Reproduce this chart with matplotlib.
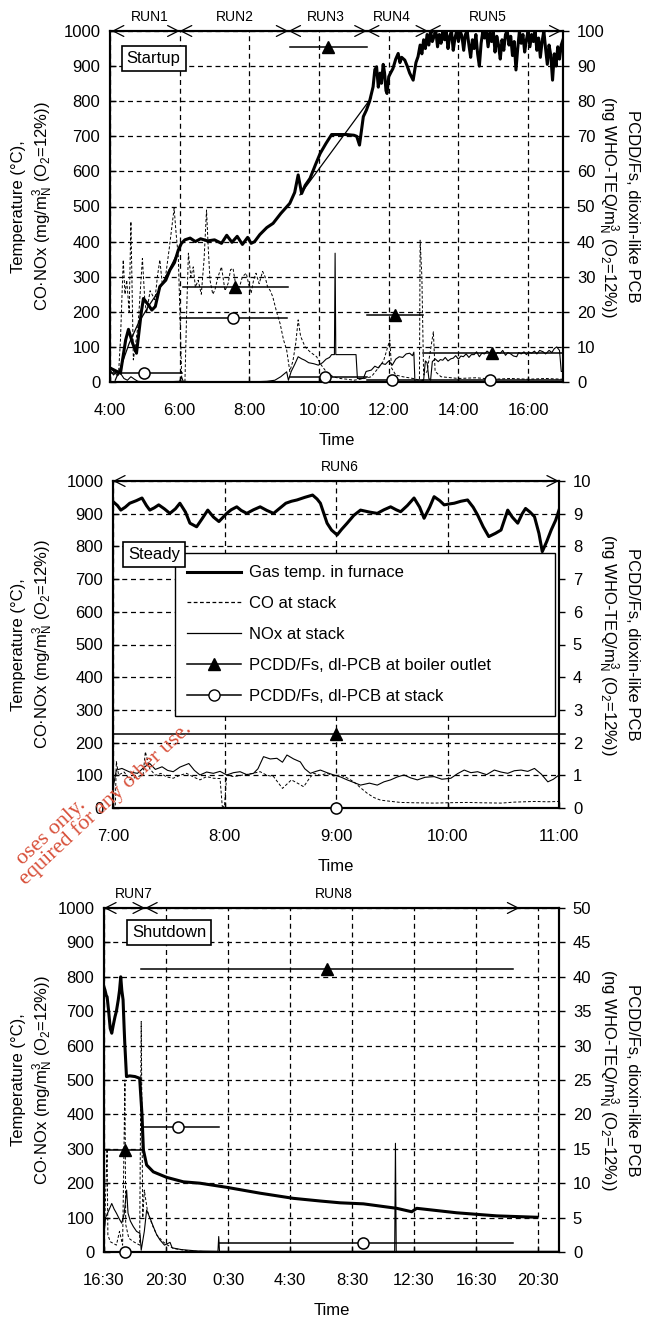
import numpy as np
import matplotlib
matplotlib.use('Agg')
import matplotlib.pyplot as plt
from matplotlib.lines import Line2D

plt.rcParams['font.family'] = ['Liberation Sans', 'DejaVu Sans']
plt.rcParams['mathtext.fontset'] = 'custom'
plt.rcParams['mathtext.rm'] = 'Liberation Sans'
plt.rcParams['mathtext.it'] = 'Liberation Sans:italic'
plt.rcParams['mathtext.bf'] = 'Liberation Sans:bold'

# ---------------- data: Startup (hours of day) ----------------
s_temp_t = [4.0, 4.2, 4.3, 4.45, 4.53, 4.65, 4.76, 4.9, 4.96, 5.1, 5.2, 5.3, 5.43, 5.6, 5.72, 5.85, 5.96,
            6.05, 6.15, 6.3, 6.45, 6.6, 6.8, 7.0, 7.2, 7.35, 7.5, 7.65, 7.8, 7.95, 8.05, 8.15, 8.3, 8.5,
            8.68, 8.9, 9.16, 9.3, 9.4, 9.5, 9.6, 9.74, 9.9, 10.03, 10.2, 10.36, 10.6, 10.79, 11.0, 11.08,
            11.16, 11.27, 11.36, 11.45, 11.55, 11.6, 11.65, 11.7, 11.75, 11.79, 11.84, 11.88, 11.92, 11.95,
            12.0, 12.05, 12.12, 12.2, 12.27, 12.32, 12.37, 12.46, 12.53, 12.6, 12.65, 12.7, 12.78, 12.84,
            12.9, 12.95, 13.0, 13.05, 13.1, 13.15, 13.2, 13.25,
            13.30, 13.35, 13.40, 13.45, 13.50, 13.55, 13.60, 13.65, 13.70, 13.75, 13.80, 13.85, 13.90,
            13.95, 14.00, 14.05, 14.10, 14.15, 14.20, 14.25, 14.30, 14.35, 14.40, 14.45, 14.50, 14.55,
            14.60, 14.65, 14.70, 14.75, 14.80, 14.85, 14.90, 14.95, 15.00, 15.05, 15.10, 15.15, 15.20,
            15.25, 15.30, 15.35, 15.40, 15.45, 15.50, 15.55, 15.60, 15.65, 15.70, 15.75, 15.80, 15.85,
            15.90, 15.95, 16.00, 16.05, 16.10, 16.15, 16.20, 16.25, 16.30, 16.35, 16.40, 16.45, 16.50,
            16.55, 16.60, 16.65, 16.70, 16.75, 16.80, 16.85, 16.90, 16.95, 17.00]
s_temp_v = [40, 30, 25, 120, 150, 110, 82, 200, 238, 220, 205, 215, 272, 290, 319, 340, 376,
            395, 405, 410, 400, 408, 402, 405, 395, 418, 398, 415, 392, 412, 395, 400, 420, 440,
            452, 480, 509, 540, 590, 537, 560, 580, 620, 651, 680, 705, 705, 705, 703, 700,
            675, 756, 775, 800, 841, 890, 898, 840, 880, 851, 905, 880, 830, 822,
            870, 880, 893, 920, 936, 910, 925, 917, 900, 880, 870, 860, 910, 927,
            960, 935, 975, 950, 990, 960, 1000, 970,
            985, 1000, 955, 990, 965, 1000, 975, 1000, 950, 985, 1000, 945, 980,
            1000, 970, 1000, 985, 945, 990, 1000, 960, 925, 975, 950, 990, 935,
            900, 965, 1000, 980, 1000, 955, 995, 970, 1000, 940, 985, 960, 920,
            975, 945, 990, 1000, 960, 985, 930, 970, 889, 950, 1000, 965, 990,
            940, 975, 1000, 955, 990, 970, 1000, 945, 980, 925, 970, 1000, 950,
            905, 960, 930, 860, 935, 900, 955, 920, 960, 975]
s_temp2_t = [4.15, 4.3, 4.55, 4.81, 5.1, 5.4, 5.7, 6.0, np.nan, 9.45, 11.5]
s_temp2_v = [5, 40, 110, 167, 215, 260, 320, 380, np.nan, 533, 810]
s_co_t = [4.0, 4.1, 4.24, 4.3, 4.38, 4.43, 4.48, 4.55, 4.6, 4.67, 4.75, 4.81, 4.87, 4.93, 5.0, 5.05, 5.15,
          5.29, 5.36, 5.43, 5.5, 5.58, 5.7, 5.84, 5.9, 5.96, 6.02, 6.06, 6.15, 6.2, 6.25, 6.32, 6.39, 6.45,
          6.53, 6.62, 6.7, 6.77, 6.82, 6.87, 6.95, 7.01, 7.1, 7.2, 7.3, 7.39, 7.46, 7.53, 7.62, 7.72, 7.8,
          7.91, 8.0, 8.05, 8.12, 8.19, 8.28, 8.38, 8.45, 8.52, 8.6, 8.67, 8.78, 8.88, 8.98, 9.07, 9.16,
          9.25, 9.33, 9.4, 9.47, 9.6, 9.75, 9.93, 10.05, 10.2, 10.4, 10.6, 10.8, 11.0, 11.3, 11.5, 11.7,
          11.85, 12.03, 12.08, 12.2, 12.4, 12.7, 12.88, 12.9, 12.95, 13.0, 13.1, 13.28, 13.33, 13.5,
          14.0, 14.5, 15.0, 15.5, 16.0, 16.5, 17.0]
s_co_v = [45, 30, 15, 120, 348, 250, 290, 200, 457, 63, 120, 167, 260, 352, 230, 196, 260,
          234, 300, 348, 280, 290, 380, 495, 420, 357, 150, 0, 0, 200, 367, 300, 328, 270,
          290, 250, 350, 490, 380, 290, 250, 262, 300, 328, 260, 281, 320, 324, 270, 272, 300,
          310, 270, 253, 290, 310, 280, 315, 300, 272, 260, 243, 200, 167, 120, 91, 30,
          60, 110, 177, 130, 100, 85, 72, 50, 30, 15, 10, 8, 5, 10, 15, 40,
          60, 120, 40, 20, 15, 10, 5, 404, 300, 20, 30, 143, 30, 15,
          10, 12, 8, 10, 8, 10, 8]
s_nox_t = [4.0, 4.1, 4.2, 4.3, 4.4, 4.5, 4.6, 4.7, 4.8, 5.0, 5.5, 6.0, 6.05, 6.1, 6.5, 7.0, 8.0, 8.5,
           8.73, 8.9, 9.07, 9.12, 9.2, 9.3, 9.4, 9.5, 9.59, 9.7, 9.85, 9.98, 10.1, 10.2, 10.3, 10.36,
           10.44, 10.46, 10.48, 11.06, 11.1, 11.27, 11.35, 11.5, 11.6, 11.7, 11.8, 11.9, 12.0, 12.1,
           12.2, 12.3, 12.4, 12.5, 12.6, 12.68, 12.72, 12.75, 12.9, 13.0, 13.05, 13.1, 13.15, 13.2,
           13.25, 13.33, 13.42, 13.48, 13.55, 13.62, 13.7, 13.78, 13.85, 13.92, 14.0, 14.07, 14.14,
           14.22, 14.3, 14.37, 14.45, 14.52, 14.6, 14.67, 14.75, 14.82, 14.9, 14.97, 15.05, 15.12,
           15.2, 15.27, 15.35, 15.42, 15.5, 15.58, 15.67, 15.73, 15.8, 15.88, 15.95, 16.02, 16.1,
           16.18, 16.25, 16.33, 16.43, 16.5, 16.6, 16.68, 16.75, 16.82, 16.9, 16.95, 17.0]
s_nox_v = [35, 20, 30, 25, 10, 5, 15, 8, 2, 0, 0, 2, 15, 2, 0, 0, 0, 2,
           5, 15, 29, 5, 30, 50, 72, 66, 62, 55, 52, 48, 55, 65, 70, 78,
           78, 367, 78, 78, 10, 10, 30, 34, 45, 40, 53, 50, 60, 48,
           65, 72, 70, 80, 82, 75, 85, 2, 2, 5, 60, 55, 10, 5,
           58, 66, 58, 64, 62, 70, 60, 66, 68, 75, 65, 74, 72,
           80, 70, 78, 78, 86, 72, 82, 80, 88, 82, 76, 75, 84,
           82, 90, 76, 84, 80, 74, 72, 84, 80, 86, 78, 85, 82,
           88, 80, 90, 86, 80, 90, 84, 95, 100, 90, 30, 30]
# PCDD/Fs (right axis): centre time, value, sampling start, sampling end
s_boil_t = [7.59, 10.26, 12.18, 14.95]
s_boil_v = [27.2, 95.4, 19.1, 8.2]
s_boil_a = [6.09, 9.17, 11.37, 12.99]
s_boil_b = [9.12, 11.37, 12.99, 17.0]
s_stack_t = [4.99, 7.52, 10.17, 12.08, 14.9]
s_stack_v = [2.7, 18.1, 1.5, 0.5, 0.5]
s_stack_a = [4.0, 6.0, 9.17, 11.37, 12.99]
s_stack_b = [6.06, 9.07, 11.37, 12.99, 17.0]
s_runs = ['RUN1', 'RUN2', 'RUN3', 'RUN4', 'RUN5']
s_run_edges = [4.05, 6.0, 9.12, 11.37, 13.13, 16.96]
s_run_label_t = [5.15, 7.59, 10.2, 12.1, 14.85]

# ---------------- data: Steady ----------------
m_temp_t = [7.0, 7.04, 7.07, 7.11, 7.15, 7.21, 7.26, 7.3, 7.33, 7.37, 7.41, 7.46, 7.51, 7.56, 7.6, 7.65,
            7.69, 7.75, 7.8, 7.85, 7.9, 7.95, 8.02, 8.06, 8.11, 8.15, 8.2, 8.26, 8.32, 8.38, 8.44, 8.5,
            8.55, 8.6, 8.65, 8.72, 8.79, 8.83, 8.86, 8.92, 8.96, 9.01, 9.05, 9.1, 9.16, 9.22, 9.3, 9.37,
            9.43, 9.49, 9.54, 9.58, 9.64, 9.7, 9.75, 9.79, 9.84, 9.88, 9.93, 9.97, 10.02, 10.06, 10.12,
            10.18, 10.23, 10.27, 10.32, 10.37, 10.43, 10.48, 10.54, 10.58, 10.63, 10.67, 10.7, 10.74,
            10.78, 10.82, 10.85, 10.89, 10.93, 10.97, 11.0]
m_temp_v = [937, 925, 911, 920, 932, 940, 948, 925, 911, 918, 927, 915, 901, 915, 932, 905,
            871, 860, 885, 911, 890, 876, 901, 912, 921, 910, 901, 912, 921, 910, 901, 918,
            932, 938, 942, 950, 957, 945, 932, 871, 850, 835, 852, 871, 895, 911, 905, 901,
            912, 921, 912, 906, 925, 948, 920, 886, 920, 952, 940, 927, 930, 932, 938,
            942, 920, 896, 860, 830, 840, 850, 911, 890, 871, 900, 916, 905,
            891, 840, 784, 815, 850, 880, 911]
m_nox_t = [7.0, 7.03, 7.08, 7.15, 7.22, 7.28, 7.33, 7.38, 7.44, 7.49, 7.54, 7.6, 7.68, 7.73, 7.78, 7.84,
           7.9, 7.96, 8.02, 8.08, 8.14, 8.2, 8.26, 8.3, 8.35, 8.41, 8.47, 8.52, 8.56, 8.62, 8.68, 8.72,
           8.77, 8.82, 8.86, 8.92, 8.98, 9.04, 9.1, 9.16, 9.22, 9.3, 9.37, 9.43, 9.49, 9.55, 9.61, 9.67,
           9.73, 9.8, 9.88, 9.95, 10.03, 10.09, 10.15, 10.21, 10.27, 10.35, 10.42, 10.48, 10.54, 10.6,
           10.66, 10.72, 10.78, 10.84, 10.9, 10.95, 11.0]
m_nox_v = [60, 116, 121, 110, 106, 125, 136, 118, 126, 115, 111, 125, 136, 115, 101, 110,
           106, 112, 101, 108, 111, 102, 106, 120, 157, 150, 152, 140, 162, 150, 141, 120,
           106, 112, 116, 108, 101, 95, 86, 78, 70, 76, 70, 80, 86, 95, 101, 92,
           86, 94, 96, 88, 91, 105, 116, 108, 111, 102, 116, 110, 106, 114,
           116, 112, 121, 104, 80, 88, 101]
m_co_t = [7.0, 7.02, 7.03, 7.05, 7.1, 7.15, 7.21, 7.27, 7.29, 7.33, 7.38, 7.43, 7.48, 7.54, 7.6, 7.66,
          7.72, 7.78, 7.84, 7.9, 7.96, 7.98, 8.0, 8.02, 8.08, 8.17, 8.24, 8.32, 8.38, 8.44, 8.52, 8.6,
          8.66, 8.71, 8.76, 8.8, 8.86, 8.92, 8.98, 9.04, 9.1, 9.16, 9.22, 9.28, 9.34, 9.4, 9.5, 9.58,
          9.7, 9.88, 10.0, 10.18, 10.3, 10.48, 10.6, 10.78, 10.9, 11.0]
m_co_v = [0, 0, 142, 101, 110, 86, 95, 101, 172, 120, 100, 106, 95, 91, 100, 106,
          95, 86, 96, 91, 90, 5, 5, 101, 96, 101, 105, 111, 100, 96, 60, 86,
          75, 65, 90, 106, 100, 106, 98, 101, 92, 80, 62, 45, 32, 24, 20, 17,
          16, 15, 16, 17, 16, 15, 18, 20, 19, 20]
m_boil_t = [9.0]
m_boil_v = [2.26]
m_boil_a = [7.0]
m_boil_b = [11.05]
m_stack_t = [9.0]
m_stack_v = [0.0]
m_runs = ['RUN6']
m_run_edges = [7.0, 11.0]
m_run_label_t = [9.03]

# ---------------- data: Shutdown (hours from 0:00 of first day) ----------------
d_temp_t = [16.5, 16.56, 16.65, 16.7, 16.8, 16.9, 17.0, 17.1, 17.21, 17.3, 17.42, 17.5, 17.58, 17.65,
            17.73, 17.8, 17.84, 17.95, 18.16, 18.5, 18.8, 18.95, 19.04, 19.25, 19.68, 20.54, 21.62,
            22.69, 24.42, 26.56, 28.71, 30.5, 31.73, 33.23, 35.38, 36.35, 36.67, 39.25, 41.84, 44.42]
d_temp_v = [770, 762, 745, 742, 700, 650, 636, 660, 684, 700, 733, 760, 800, 760,
            733, 650, 607, 510, 512, 510, 505, 400, 297, 253, 233, 217, 204,
            200, 188, 171, 156, 148, 143, 140, 127, 117, 127, 114, 105, 101]
d_co_t = [16.5, 16.7, 16.75, 16.9, 17.3, 17.5, 17.7, 17.85, 17.9, 18.1, 18.4, 18.8, 18.9, 19.0, 19.1,
          19.3, 19.6, 19.9, 20.3, 20.6, 21.0, 22.0, 24.0, 45.9]
d_co_v = [20, 300, 50, 30, 20, 60, 20, 500, 80, 40, 30, 20, 670, 100, 180,
          120, 80, 50, 30, 20, 10, 3, 0, 0]
d_nox_t = [16.5, 16.6, 16.8, 17.0, 17.15, 17.3, 17.5, 17.64, 17.8, 17.96, 18.05, 18.2, 18.39, 18.6,
           18.82, 18.9, 19.1, 19.25, 19.5, 19.68, 19.9, 20.11, 20.4, 20.76, 20.9, 21.5, 22.5, 23.85,
           23.9, 23.95, 35.25, 35.3, 35.35, 45.9]
d_nox_v = [50, 100, 120, 141, 125, 113, 95, 84, 110, 180, 113, 90, 74, 60,
           54, 5, 60, 122, 95, 74, 50, 35, 20, 28, 12, 7, 3, 2,
           45, 2, 2, 316, 2, 2]
d_boil_t = [17.85, 30.9]
d_boil_v = [14.8, 41.1]
d_boil_a = [16.56, 18.9]
d_boil_b = [18.93, 42.9]
d_stack_t = [17.85, 21.3, 33.23]
d_stack_v = [0.0, 18.1, 1.25]
d_stack_a = [17.85, 19.04, 23.9]
d_stack_b = [17.85, 23.9, 42.9]
d_runs = ['RUN7', 'RUN8']
d_run_edges = [16.5, 19.15, 43.3]
d_run_label_t = [18.4, 31.3]

# ---------------- figure ----------------
fig = plt.figure(figsize=(6.46, 13.17), dpi=100)
W, H = 646.0, 1317.0


def axes_px(l, r, t, b):
    return fig.add_axes([l / W, 1 - b / H, (r - l) / W, (b - t) / H])


FS = 12
left_label = 'Temperature (°C),\nCO·NOx (mg/m$_\\mathrm{N}^\\mathrm{3}$ (O$_\\mathrm{2}$=12%))'
right_label = 'PCDD/Fs, dioxin-like PCB\n(ng WHO-TEQ/m$_\\mathrm{N}^\\mathrm{3}$ (O$_\\mathrm{2}$=12%))'
DASH = (0, (4, 3))


def panel(px, xlim, xticks, xticklabels, rmax, rstep):
    l, r, t, b = px
    ax = axes_px(l, r, t, b)
    ax.set_xlim(*xlim)
    ax.set_ylim(0, 1000)
    ax.set_yticks(np.arange(0, 1001, 100))
    ax.set_xticks(xticks)
    ax.set_xticklabels(xticklabels)
    ax.grid(True, ls=DASH, color='k', lw=0.9)
    ax.tick_params(direction='in', length=4, labelsize=FS, width=1)
    ax.tick_params(axis='x', pad=15)
    ax.tick_params(axis='y', pad=7)
    for sp in ax.spines.values():
        sp.set_linewidth(1.5)
    ax.set_xlabel('Time', fontsize=FS, labelpad=11)
    ax.set_ylabel(left_label, fontsize=FS, linespacing=1.25)
    ax.yaxis.set_label_coords((55 - l) / (r - l), 0.5)
    ax2 = ax.twinx()
    ax2.set_ylim(0, rmax)
    ax2.set_yticks(np.arange(0, rmax + 0.001, rstep))
    ax2.tick_params(direction='out', length=4, labelsize=FS, pad=6, width=1)
    for sp in ax2.spines.values():
        sp.set_linewidth(1.5)
    ax2.set_ylabel(right_label, fontsize=FS, rotation=270, linespacing=1.25)
    ax2.yaxis.label.set_va('bottom')
    ax2.yaxis.set_label_coords((596 - l) / (r - l), 0.5)
    return ax, ax2


def draw(ax, temp_t, temp_v, co_t, co_v, nox_t, nox_v):
    ax.plot(co_t, co_v, color='k', lw=0.7, ls=(0, (3, 2)))
    ax.plot(nox_t, nox_v, color='k', lw=0.8)
    ax.plot(temp_t, temp_v, color='k', lw=2.2, solid_joinstyle='round')


def pcdd(ax2, bt, bv, ba, bb, st, sv, sa, sb):
    for t, v, a, b in zip(bt, bv, ba, bb):
        ax2.plot([a, b], [v, v], color='k', lw=1.1, clip_on=False)
        ax2.plot([t], [v], marker='^', ms=8, color='k', clip_on=False, zorder=4)
    for t, v, a, b in zip(st, sv, sa, sb):
        ax2.plot([a, b], [v, v], color='k', lw=1.1)
        ax2.plot([t], [v], marker='o', ms=8, mfc='white', mec='k', mew=1.1, clip_on=False, zorder=4)


def runs(ax, names, edges, label_t):
    for i, name in enumerate(names):
        a, b = edges[i], edges[i + 1]
        ax.annotate('', xy=(b, 1000), xytext=(a, 1000), xycoords='data',
                    arrowprops=dict(arrowstyle='<->,head_length=0.55,head_width=0.28',
                                    lw=0.9, color='k', shrinkA=0, shrinkB=0, mutation_scale=14),
                    annotation_clip=False)
        ax.annotate(name, xy=(label_t[i], 1000), xytext=(0, 5), textcoords='offset points',
                    ha='center', va='bottom', fontsize=10, annotation_clip=False)


def tag(ax, text, x, y):
    ax.text(x, y, text, transform=ax.transAxes, fontsize=FS, ha='left', va='center', zorder=20,
            bbox=dict(boxstyle='square,pad=0.3', fc='white', ec='k', lw=1.2))


# ---- Startup ----
ax, ax2 = panel((110, 563, 31, 382), (4, 17), np.arange(4, 17, 2),
                ['4:00', '6:00', '8:00', '10:00', '12:00', '14:00', '16:00'], 100, 10)
draw(ax, s_temp_t, s_temp_v, s_co_t, s_co_v, s_nox_t, s_nox_v)
ax.plot(s_temp2_t, s_temp2_v, color='k', lw=0.9)
pcdd(ax2, s_boil_t, s_boil_v, s_boil_a, s_boil_b, s_stack_t, s_stack_v, s_stack_a, s_stack_b)
runs(ax, s_runs, s_run_edges, s_run_label_t)
tag(ax2, 'Startup', 0.037, 0.922)

# ---- Steady ----
ax, ax2 = panel((113, 559, 481, 808), (7, 11), np.arange(7, 11.01, 1),
                ['7:00', '8:00', '9:00', '10:00', '11:00'], 10, 1)
draw(ax, m_temp_t, m_temp_v, m_co_t, m_co_v, m_nox_t, m_nox_v)
pcdd(ax2, m_boil_t, m_boil_v, m_boil_a, m_boil_b, [], [], [], [])
for t, v in zip(m_stack_t, m_stack_v):
    ax2.plot([t], [v], marker='o', ms=8, mfc='white', mec='k', mew=1.1, clip_on=False, zorder=4)
runs(ax, m_runs, m_run_edges, m_run_label_t)
handles = [Line2D([], [], color='k', lw=2.2),
           Line2D([], [], color='k', lw=0.9, ls=(0, (3, 2))),
           Line2D([], [], color='k', lw=0.9),
           Line2D([], [], color='k', lw=1.1, marker='^', ms=8),
           Line2D([], [], color='k', lw=1.1, marker='o', ms=8, mfc='white', mec='k')]
labels = ['Gas temp. in furnace', 'CO at stack', 'NOx at stack',
          'PCDD/Fs, dl-PCB at boiler outlet', 'PCDD/Fs, dl-PCB at stack']
leg = ax2.legend(handles, labels, loc='upper left', bbox_to_anchor=(0.139, 0.29, 0.852, 0.49),
                 mode='expand', fontsize=FS, frameon=True, fancybox=False, edgecolor='k',
                 framealpha=1, handlelength=3.2, labelspacing=0.95, borderpad=0.75, handletextpad=0.5,
                 borderaxespad=0)
leg.get_frame().set_linewidth(1.0)
leg.set_zorder(8)
tag(ax2, 'Steady', 0.034, 0.775)

# ---- Shutdown ----
ax, ax2 = panel((104, 559, 908, 1252), (16.5, 45.85), np.arange(16.5, 45, 4),
                ['16:30', '20:30', '0:30', '4:30', '8:30', '12:30', '16:30', '20:30'], 50, 5)
draw(ax, d_temp_t, d_temp_v, d_co_t, d_co_v, d_nox_t, d_nox_v)
pcdd(ax2, d_boil_t, d_boil_v, d_boil_a, d_boil_b, d_stack_t, d_stack_v, d_stack_a, d_stack_b)
runs(ax, d_runs, d_run_edges, d_run_label_t)
tag(ax2, 'Shutdown', 0.0615, 0.929)

# ---- watermark (partially visible in the reference) ----
wm = dict(color='#d8503a', fontsize=16, family='Liberation Serif', rotation=43,
          rotation_mode='anchor', ha='right', va='baseline')
fig.text(86 / W, 1 - 806 / H, 'oses only.', **wm)
fig.text(192 / W, 1 - 730 / H, 'equired for any other use.', **wm)

fig.savefig('out.png', dpi=100)
